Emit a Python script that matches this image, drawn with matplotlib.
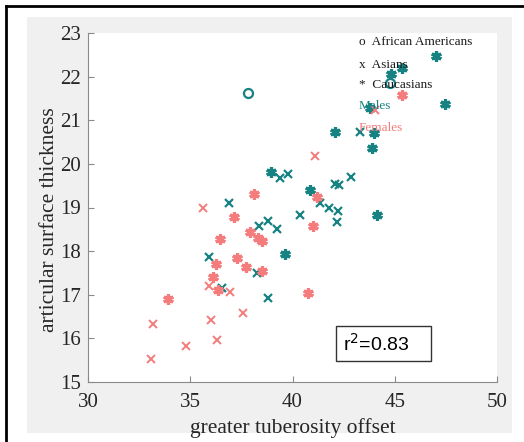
import matplotlib
matplotlib.use("Agg")
import matplotlib.pyplot as plt
from matplotlib.lines import Line2D
from matplotlib.patches import Rectangle

# males (teal)
male_aa_x = [37.82, 44.77]
male_aa_y = [21.62, 21.85]
male_asian_x = [43.30, 42.86, 42.08, 42.27, 41.34, 41.78, 42.22, 40.37, 42.18, 39.39, 39.78,
                36.90, 38.36, 38.80, 39.24, 35.92, 38.26, 36.55, 38.80]
male_asian_y = [20.73, 19.70, 19.54, 19.51, 19.10, 18.99, 18.92, 18.83, 18.66, 19.67, 19.77,
                19.10, 18.57, 18.69, 18.50, 17.86, 17.50, 17.15, 16.92]
male_cauc_x = [47.02, 45.37, 44.82, 47.46, 43.79, 42.08, 43.98, 43.89, 40.86, 44.13, 39.63, 38.95]
male_cauc_y = [22.47, 22.20, 22.06, 21.37, 21.28, 20.73, 20.71, 20.36, 19.40, 18.83, 17.93, 19.81]

# females (pink)
fem_asian_x = [44.03, 41.10, 35.62, 35.92, 36.94, 37.58, 36.01, 33.18, 36.31, 34.79, 33.08]
fem_asian_y = [21.23, 20.18, 18.99, 17.20, 17.06, 16.58, 16.42, 16.33, 15.96, 15.82, 15.52]
fem_cauc_x = [45.35, 41.20, 41.00, 40.76, 38.12, 37.14, 37.92, 38.31, 38.51, 36.45, 36.26,
              37.29, 37.73, 38.51, 36.11, 36.36, 33.91]
fem_cauc_y = [21.58, 19.24, 18.57, 17.04, 19.31, 18.78, 18.44, 18.30, 18.23, 18.28, 17.70,
              17.84, 17.63, 17.54, 17.40, 17.11, 16.90]

r2_text = "r$^2$=0.83"
teal = "#178282"
pink = "#f47c7c"
star = (6, 2, 0)

fig = plt.figure(figsize=(5.24, 4.42), dpi=100)
fig.patch.set_facecolor("white")
# grey panel + black frame
fig.add_artist(Rectangle((27/524, 1-433/442), (512-27)/524, (433-17)/442,
                         transform=fig.transFigure, facecolor="#f0f0f0", edgecolor="none", zorder=0))
fig.add_artist(Line2D([6/524, 6/524], [0, 1-6/442], transform=fig.transFigure, color="black", lw=2))
fig.add_artist(Line2D([6/524, 1], [1-6/442, 1-6/442], transform=fig.transFigure, color="black", lw=2))

ax = fig.add_axes([88/524, 1-382/442, 409/524, 349/442])
ax.set_facecolor("white")

ax.plot(male_asian_x, male_asian_y, "x", color=teal, ms=6, mew=1.6, ls="none")
ax.plot(male_cauc_x, male_cauc_y, marker=star, color=teal, ms=7.5, mew=2.3, ls="none")
ax.plot(male_aa_x, male_aa_y, "o", mfc="none", mec=teal, ms=6.5, mew=1.6, ls="none")
ax.plot(fem_asian_x, fem_asian_y, "x", color=pink, ms=6, mew=1.4, ls="none")
ax.plot(fem_cauc_x, fem_cauc_y, marker=star, color=pink, ms=7.5, mew=2.3, ls="none")

serif = "Liberation Serif"
ax.text(43.25, 22.79, "o  African Americans", family=serif, fontsize=9.5, color="#1a1a1a", va="center")
ax.text(43.25, 22.27, "x  Asians", family=serif, fontsize=9.5, color="#1a1a1a", va="center")
ax.text(43.25, 21.81, "*  Caucasians", family=serif, fontsize=9.5, color="#1a1a1a", va="center")
ax.text(43.25, 21.33, "Males", family=serif, fontsize=9.5, color=teal, va="center")
ax.text(43.25, 20.82, "Females", family=serif, fontsize=9.5, color=pink, va="center")

# r^2 box
ax.add_patch(Rectangle((0.606, 0.060), 0.233, 0.100, transform=ax.transAxes,
                       facecolor="white", edgecolor="#333333", lw=1, zorder=3))
ax.text(0.623, 0.108, r2_text, transform=ax.transAxes, family="Liberation Sans", fontsize=14,
        va="center", ha="left", zorder=4)

ax.set_xlim(30, 50)
ax.set_ylim(15, 23)
ax.set_xticks([30, 35, 40, 45, 50])
ax.set_yticks(range(15, 24))
for s in ["top", "right"]:
    ax.spines[s].set_visible(False)
for s in ["left", "bottom"]:
    ax.spines[s].set_color("#8a8a8a")
ax.tick_params(direction="in", length=4, color="#8a8a8a", labelcolor="#262626", labelsize=15)
ax.tick_params(axis="x", pad=8)
ax.tick_params(axis="y", pad=5)
for lab in ax.get_xticklabels() + ax.get_yticklabels():
    lab.set_family(serif)
ax.set_xlabel("greater tuberosity offset", family=serif, fontsize=15.5, color="#262626", labelpad=4)
ax.set_ylabel("articular surface thickness", family=serif, fontsize=15.5, color="#262626")
ax.yaxis.set_label_coords(-0.07, 0.464)

fig.savefig("out.png", dpi=100)
